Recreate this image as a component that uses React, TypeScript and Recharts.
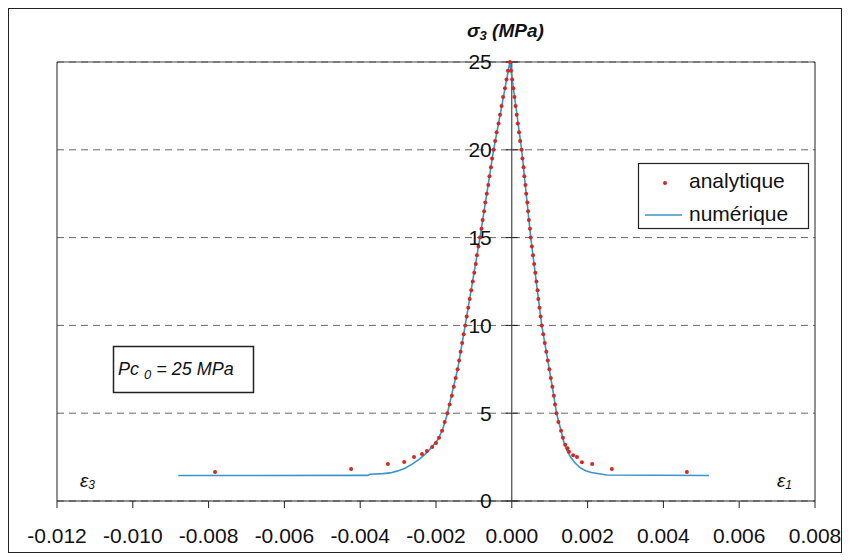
import {
  CartesianGrid,
  ComposedChart,
  Line,
  ReferenceLine,
  Scatter,
  XAxis,
  YAxis,
} from "recharts";

const FONT = '"Liberation Sans", Arial, sans-serif';
const BLEU = "#3a93c9";
const ROUGE = "#d7261e";
const TRAIT = "#222";
const GRILLE = "#666";

const X_TICKS = [-0.012, -0.01, -0.008, -0.006, -0.004, -0.002, 0, 0.002, 0.004, 0.006, 0.008];
const Y_TICKS = [0, 5, 10, 15, 20, 25];

// numérique : courbe continue
const NUM_X = [
  -0.0088, -0.0038, -0.00374, -0.0034, -0.00321, -0.00303, -0.00283, -0.00263, -0.00243,
  -0.00224, -0.0021, -0.00195, -0.00182, -0.00171, -0.00157, -0.00142, -0.00123, -0.00084,
  -0.00048, -0.00005, 0.00026, 0.0005, 0.00079, 0.00095, 0.0011, 0.00118, 0.0013, 0.00138,
  0.00145, 0.00155, 0.00167, 0.0018, 0.00195, 0.0021, 0.0023, 0.0025, 0.0052,
];
const NUM_Y = [
  1.45, 1.46, 1.52, 1.56, 1.6, 1.7, 1.85, 2.1, 2.4,
  2.75, 3.1, 3.5, 4.1, 4.9, 6.2, 7.6, 10, 15,
  20, 25, 20, 15, 10, 8, 6.1, 5, 4, 3.3,
  2.9, 2.5, 2.16, 1.9, 1.72, 1.62, 1.55, 1.48, 1.45,
];

// analytique : points
const ANA_X = [
  -0.00783, -0.00424, -0.00327, -0.00284, -0.00258, -0.00237, -0.00224, -0.0021,
  -0.002, -0.00192, -0.00184, -0.00177, -0.0017, -0.00164, -0.00158, -0.00153, -0.00148,
  -0.00143, -0.00139, -0.00135, -0.00131, -0.00127, -0.00123, -0.00119, -0.00115, -0.00111,
  -0.00107, -0.00103, -0.00099, -0.00095, -0.00092, -0.00088, -0.00084, -0.0008, -0.00077,
  -0.00073, -0.0007, -0.00066, -0.00062, -0.00059, -0.00055, -0.00052, -0.00048, -0.00044,
  -0.0004, -0.00035, -0.00031, -0.00027, -0.00023, -0.00018, -0.00014, -0.0001, -0.00005,
  -0.00002, 0.00001, 0.00004, 0.00007, 0.0001, 0.00013, 0.00016, 0.00019, 0.00022, 0.00026,
  0.00028, 0.00031, 0.00033, 0.00036, 0.00038, 0.00041, 0.00043, 0.00045, 0.00048, 0.0005,
  0.00053, 0.00056, 0.00059, 0.00062, 0.00065, 0.00068, 0.0007, 0.00073, 0.00076, 0.00079,
  0.00083, 0.00087, 0.00091, 0.00095, 0.00099, 0.00103, 0.00107, 0.00111, 0.00114, 0.00118,
  0.00123, 0.0013, 0.00135, 0.00141, 0.00147, 0.00151, 0.00162, 0.00172, 0.00185, 0.00212,
  0.00264, 0.00462,
];
const ANA_Y = [
  1.65, 1.82, 2.1, 2.22, 2.5, 2.68, 2.85, 3.08,
  3.3, 3.6, 4, 4.5, 5, 5.5, 6, 6.5, 7,
  7.5, 8, 8.5, 9, 9.5, 10, 10.5, 11, 11.5,
  12, 12.5, 13, 13.5, 14, 14.5, 15, 15.5, 16,
  16.5, 17, 17.5, 18, 18.5, 19, 19.5, 20, 20.5,
  21, 21.5, 22, 22.5, 23, 23.5, 24, 24.5, 25,
  24.5, 24, 23.5, 23, 22.5, 22, 21.5, 21, 20.5, 20,
  19.5, 19, 18.5, 18, 17.5, 17, 16.5, 16, 15.5, 15,
  14.5, 14, 13.5, 13, 12.5, 12, 11.5, 11, 10.5, 10,
  9.5, 9, 8.5, 8, 7.5, 7, 6.5, 6, 5.5, 5,
  4.5, 4, 3.6, 3.2, 3, 2.8, 2.6, 2.5, 2.2, 2.1,
  1.82, 1.65,
];

const numerique = NUM_X.map((x, i) => ({ x, y: NUM_Y[i] }));
const analytique = ANA_X.map((x, i) => ({ x, y: ANA_Y[i] }));

function Point(p: { cx?: number; cy?: number }) {
  if (p.cx == null || p.cy == null) return <g />;
  return <circle cx={p.cx} cy={p.cy} r={2} fill={ROUGE} />;
}

// Textes et cadres posés par-dessus le graphique.
function Annotations() {
  return (
    <svg
      width={849}
      height={560}
      style={{ position: "absolute", left: 0, top: 0, pointerEvents: "none" }}
      fontFamily={FONT}
    >
      <rect x={8.5} y={8.5} width={833} height={544} fill="none" stroke={TRAIT} strokeWidth={1} />
      <text x={467} y={37} fontSize={19} fontWeight="bold" fontStyle="italic" fill="#111">
        σ<tspan fontSize={13} dy={3}>3</tspan>
        <tspan dy={-3}> (MPa)</tspan>
      </text>
      <rect x={638.5} y={163.5} width={170} height={65} fill="#fff" stroke={TRAIT} strokeWidth={1.2} />
      <circle cx={665} cy={183} r={2} fill={ROUGE} />
      <text x={689} y={188} fontSize={21} fill="#111">analytique</text>
      <line x1={645} y1={215} x2={682} y2={215} stroke={BLEU} strokeWidth={1.6} />
      <text x={689} y={221} fontSize={21} fill="#111">numérique</text>
      <rect x={113.5} y={346.5} width={140} height={46} fill="#fff" stroke={TRAIT} strokeWidth={1.5} />
      <text x={118} y={375} fontSize={18} fontStyle="italic" fill="#111">
        Pc <tspan fontSize={13} dy={4}>0</tspan>
        <tspan dy={-4}> = 25 MPa</tspan>
      </text>
      <text x={80} y={487} fontSize={19} fontStyle="italic" fill="#111">
        ε<tspan fontSize={12} dy={2}>3</tspan>
      </text>
      <text x={777} y={487} fontSize={19} fontStyle="italic" fill="#111">
        ε<tspan fontSize={12} dy={2}>1</tspan>
      </text>
    </svg>
  );
}

export default function App() {
  return (
    <div style={{ position: "absolute", left: 0, top: 0, width: 849, height: 560, background: "#fff" }}>
      <ComposedChart
        width={849}
        height={560}
        margin={{ top: 62, right: 34, left: 57, bottom: 19 }}
        style={{ fontFamily: FONT }}
      >
        <CartesianGrid vertical={false} stroke={GRILLE} strokeDasharray="7 5" />
        <XAxis
          type="number"
          dataKey="x"
          domain={[-0.012, 0.008]}
          ticks={X_TICKS}
          allowDataOverflow
          tickFormatter={(v: number) => v.toFixed(3)}
          tick={{ fontSize: 21, fill: "#111", fontFamily: FONT }}
          stroke={TRAIT}
          tickSize={7}
          tickMargin={20}
          height={40}
        />
        <YAxis type="number" dataKey="y" domain={[0, 25]} ticks={Y_TICKS} hide />
        <ReferenceLine y={25} stroke="#444" />
        <ReferenceLine x={-0.012} stroke={TRAIT} />
        <ReferenceLine x={0.008} stroke={TRAIT} />
        <ReferenceLine x={0} stroke={TRAIT} />
        {Y_TICKS.map((v) => (
          <ReferenceLine
            key={v}
            segment={[
              { x: -0.00016, y: v },
              { x: 0.00016, y: v },
            ]}
            stroke={TRAIT}
            label={{
              value: String(v),
              position: "left",
              offset: 14,
              fontSize: 21,
              fill: "#111",
              fontFamily: FONT,
            }}
          />
        ))}
        <Line
          data={numerique}
          dataKey="y"
          type="linear"
          stroke={BLEU}
          strokeWidth={1.6}
          dot={false}
          isAnimationActive={false}
        />
        <Scatter data={analytique} fill={ROUGE} shape={Point} isAnimationActive={false} />
      </ComposedChart>
      <Annotations />
    </div>
  );
}
